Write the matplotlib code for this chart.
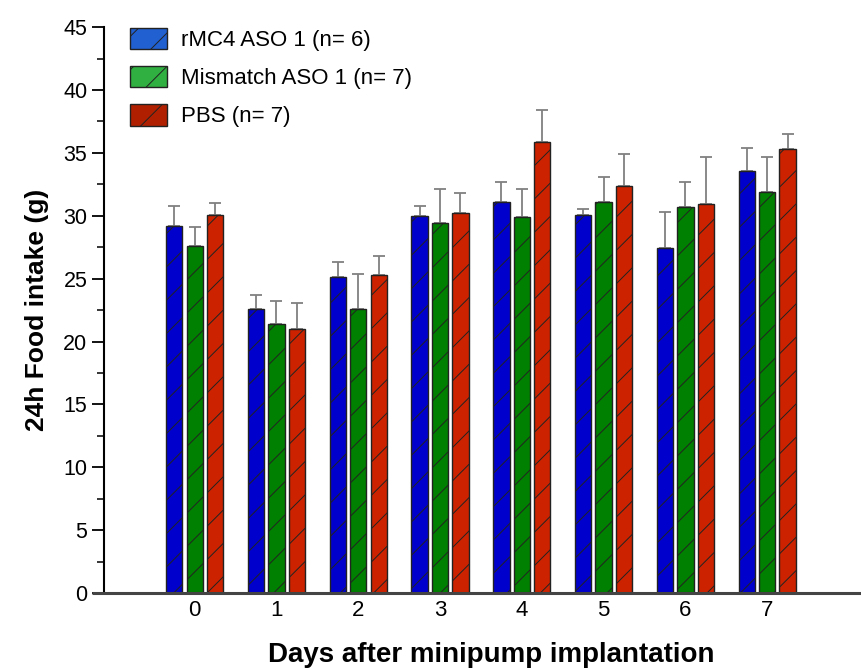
import matplotlib
matplotlib.use("Agg")
import matplotlib.pyplot as plt
from matplotlib.patches import Patch
import numpy as np
from matplotlib.ticker import MultipleLocator

plt.rcParams['font.family'] = ['Liberation Sans', 'DejaVu Sans']
plt.rcParams['hatch.linewidth'] = 0.7

days = [0, 1, 2, 3, 4, 5, 6, 7]
groups = ['rMC4 ASO 1 (n= 6)', 'Mismatch ASO 1 (n= 7)', 'PBS (n= 7)']

aso_mean = [29.2, 22.6, 25.1, 30.0, 31.1, 30.1, 27.4, 33.6]
aso_err = [1.6, 1.1, 1.2, 0.8, 1.6, 0.4, 2.9, 1.8]
mis_mean = [27.6, 21.4, 22.6, 29.4, 29.9, 31.1, 30.7, 31.9]
mis_err = [1.5, 1.8, 2.8, 2.7, 2.2, 2.0, 2.0, 2.8]
pbs_mean = [30.1, 21.0, 25.3, 30.2, 35.9, 32.4, 30.9, 35.3]
pbs_err = [0.9, 2.1, 1.5, 1.6, 2.5, 2.5, 3.8, 1.2]

colors = ['#0000cc', '#008000', '#cc2200']
legend_colors = ['#2060d0', '#30b040', '#b02000']

fig = plt.figure(figsize=(8.62, 6.68), dpi=100)
ax = fig.add_axes([0.1206, 0.1123, 0.8794, 0.847])

x = np.arange(len(days))
w = 0.2
offs = [-0.25, 0, 0.25]
for i, (m, e) in enumerate([(aso_mean, aso_err), (mis_mean, mis_err), (pbs_mean, pbs_err)]):
    ax.bar(x + offs[i], m, w, color=colors[i], edgecolor='#222222', linewidth=1.0,
           hatch='/', zorder=2)
    ax.errorbar(x + offs[i], m, yerr=[np.zeros(len(m)), e], fmt='none',
                ecolor='#808080', elinewidth=1.3, capsize=4, capthick=1.3, zorder=1)

ax.set_xlim(-1.11, 8.16)
ax.set_ylim(0, 45)
ax.set_xticks(x)
ax.set_xticklabels([str(d) for d in days], fontsize=16)
ax.tick_params(axis='x', length=0, pad=5)
ax.yaxis.set_major_locator(MultipleLocator(5))
ax.yaxis.set_minor_locator(MultipleLocator(2.5))
ax.tick_params(axis='y', which='major', length=9, width=1.3, labelsize=15.5, pad=3)
ax.tick_params(axis='y', which='minor', length=5, width=1.1)

ax.spines['top'].set_visible(False)
ax.spines['right'].set_visible(False)
ax.spines['left'].set_linewidth(1.5)
ax.spines['bottom'].set_linewidth(2.2)
ax.spines['bottom'].set_color('#444444')
ax.spines['bottom'].set_bounds(-1.26, 8.16)
ax.spines['bottom'].set_capstyle('butt')

ax.set_ylabel('24h Food intake (g)', fontsize=19, fontweight='bold', labelpad=10)
fig.text(491 / 862, 6 / 668, 'Days after minipump implantation', fontsize=20,
         fontweight='bold', ha='center', va='baseline')

handles = [Patch(facecolor=legend_colors[i], edgecolor='#222222', hatch='/', label=groups[i])
           for i in range(3)]
ax.legend(handles=handles, loc='upper left', bbox_to_anchor=(0.022, 1.015), frameon=False,
          fontsize=16, handlelength=1.7, handleheight=1.1, labelspacing=0.68,
          handletextpad=0.6, borderaxespad=0.0)

fig.savefig('out.png', dpi=100)
